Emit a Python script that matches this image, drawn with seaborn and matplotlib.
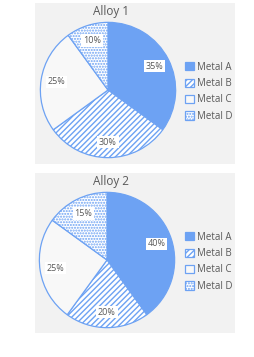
import matplotlib
matplotlib.use("Agg")
import matplotlib.pyplot as plt
import seaborn as sns
from matplotlib.patches import Patch

sns.set_style("white")
plt.rcParams['font.family'] = ['Open Sans', 'DejaVu Sans']
plt.rcParams['hatch.linewidth'] = 1.0

metals = ["Metal A", "Metal B", "Metal C", "Metal D"]
alloy1 = [35, 30, 25, 10]
alloy2 = [40, 20, 25, 15]
titles = ["Alloy 1", "Alloy 2"]

blue = "#6da2f3"
faces = [blue, "white", "#f8f8f8", "white"]
hatches = [None, "//////", None, "......"]
txt = "#595959"

W, H = 255, 357
fig = plt.figure(figsize=(W / 100, H / 100), dpi=100)
fig.patch.set_facecolor("white")

def fx(x): return x / W
def fy(y): return 1 - y / H

panels = [(35, 3, 235, 164), (35, 173, 235, 333)]
centers = [(108, 90), (107, 260)]
R = 69
title_y = [11, 181]
legend_y = [63, 233]

for i, vals in enumerate([alloy1, alloy2]):
    x0, y0, x1, y1 = panels[i]
    bg = fig.add_axes([fx(x0), fy(y1), fx(x1 - x0), (y1 - y0) / H], zorder=-5)
    bg.set_facecolor("#f2f2f2")
    bg.set_xticks([]); bg.set_yticks([])
    for s in bg.spines.values():
        s.set_visible(False)

    cx, cy = centers[i]
    ax = fig.add_axes([fx(cx - R), fy(cy + R), 2 * R / W, 2 * R / H], zorder=1)
    wedges, _, autotexts = ax.pie(
        vals, startangle=90, counterclock=False,
        colors=faces, autopct="%d%%", pctdistance=0.77,
        wedgeprops=dict(edgecolor=blue, linewidth=0.9),
        textprops=dict(color=txt, fontsize=6.5))
    for w, h in zip(wedges, hatches):
        if h:
            w.set_hatch(h)
    for t in autotexts:
        t.set_bbox(dict(facecolor="white", edgecolor="none", pad=1.2))
    ax.set_xlim(-1.02, 1.02)
    ax.set_ylim(-1.02, 1.02)
    ax.set_aspect("auto")
    ax.patch.set_visible(False)

    fig.text(fx(111), fy(title_y[i]), titles[i], ha="center", va="center",
             fontsize=8.5, color=txt)

    handles = [Patch(facecolor=f, edgecolor=blue, hatch=h, linewidth=0.9)
               for f, h in zip(faces, hatches)]
    fig.legend(handles, metals, loc="upper left",
               bbox_to_anchor=(fx(178), fy(legend_y[i] - 8)),
               frameon=False, fontsize=7, labelcolor=txt,
               handlelength=0.9, handleheight=0.9, handletextpad=0.35,
               labelspacing=0.55, borderpad=0.2)

fig.savefig("out.png", dpi=100)
